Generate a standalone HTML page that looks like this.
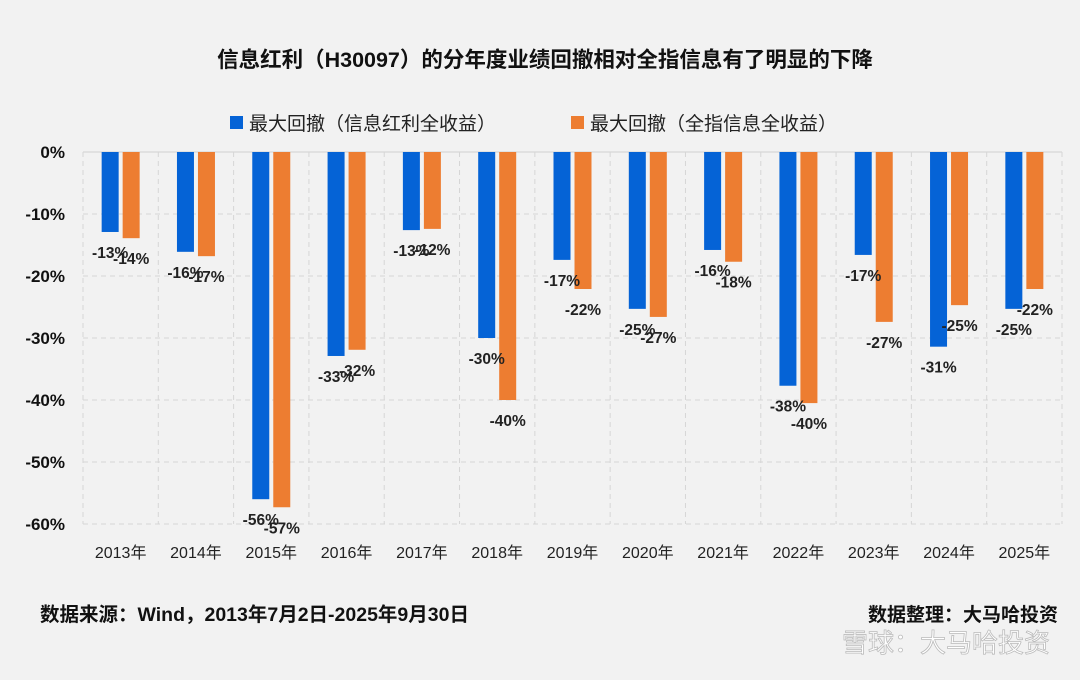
<!DOCTYPE html>
<html><head><meta charset="utf-8">
<style>
html,body{margin:0;padding:0;background:#f2f2f2;}
body{width:1080px;height:675px;overflow:hidden;font-family:"Liberation Sans","Noto Sans CJK SC",sans-serif;}
</style></head>
<body>
<svg id="chart" width="1080" height="675" xmlns="http://www.w3.org/2000/svg" style="font-family:'Liberation Sans','Noto Sans CJK SC',sans-serif">
<rect width="1080" height="675" fill="#f2f2f2"/>
<text x="545" y="67" text-anchor="middle" font-size="21.5" font-weight="bold" fill="#111">信息红利（H30097）的分年度业绩回撤相对全指信息有了明显的下降</text>
<g>
<rect x="230" y="116" width="13" height="13" fill="#0563d6"/>
<text x="249" y="130" font-size="19" fill="#222">最大回撤（信息红利全收益）</text>
<rect x="571" y="116" width="13" height="13" fill="#ed7d31"/>
<text x="590" y="130" font-size="19" fill="#222">最大回撤（全指信息全收益）</text>
</g>
<g id="grid"></g><g id="bars"></g><g id="labels"></g>
<text x="40" y="621" font-size="19.5" font-weight="bold" fill="#111">数据来源：Wind，2013年7月2日-2025年9月30日</text>
<text x="1058" y="621" text-anchor="end" font-size="19" font-weight="bold" fill="#111">数据整理：大马哈投资</text>
<text x="1050" y="652" text-anchor="end" font-size="26" fill="#fff" stroke="#bbb" stroke-width="0.8">雪球：大马哈投资</text>
</svg>
<script>
const categories=["2013年","2014年","2015年","2016年","2017年","2018年","2019年","2020年","2021年","2022年","2023年","2024年","2025年"];
const seriesBlue=[-12.9,-16.1,-56,-32.9,-12.6,-30,-17.4,-25.3,-15.8,-37.7,-16.6,-31.4,-25.3];
const seriesOrange=[-13.9,-16.8,-57.3,-31.9,-12.4,-40,-22.1,-26.6,-17.7,-40.5,-27.4,-24.7,-22.1];
const yTicks=[0,-10,-20,-30,-40,-50,-60];
const NS="http://www.w3.org/2000/svg";
const L=83,R=1062,T=152,B=524;
const cw=(R-L)/categories.length;
const y=v=>T+(0-v)/60*(B-T);
const xc=i=>L+cw*(i+0.5);
function mk(tag,attrs,parent,txt){const e=document.createElementNS(NS,tag);for(const k in attrs)e.setAttribute(k,attrs[k]);if(txt!==undefined)e.textContent=txt;parent.appendChild(e);return e;}
const grid=document.getElementById('grid'),bars=document.getElementById('bars'),labels=document.getElementById('labels');
yTicks.forEach(t=>{
  const ln=mk('line',{x1:L,x2:R,y1:y(t),y2:y(t),stroke:t===0?'#d0d0d0':'#d6d6d6','stroke-dasharray':t===0?'':'5,4','stroke-width':1},grid);
  
  
  const tx=mk('text',{x:65,y:y(t)+6,'text-anchor':'end','font-size':17,'font-weight':'bold',fill:'#111'},grid,t+'%');
  
  
});
for(let i=0;i<=categories.length;i++){
  const ln=mk('line',{x1:L+cw*i,x2:L+cw*i,y1:T,y2:B,stroke:'#d6d6d6','stroke-dasharray':'5,4'},grid);
  
  
}
const bw=17;
categories.forEach((c,i)=>{
  const xb=xc(i)-bw-2, xo=xc(i)+2;
  const b=mk('rect',{x:xb,y:T,width:bw,height:y(seriesBlue[i])-T,fill:'#0563d6'},bars);
  
  
  const o=mk('rect',{x:xo,y:T,width:bw,height:y(seriesOrange[i])-T,fill:'#ed7d31'},bars);
  
  
  const lb=mk('text',{x:xb+bw/2,y:y(seriesBlue[i])+26,'text-anchor':'middle','font-size':15.5,'font-weight':'bold',fill:'#222'},labels,Math.round(seriesBlue[i])+'%');
  
  
  const lo=mk('text',{x:xo+bw/2,y:y(seriesOrange[i])+26,'text-anchor':'middle','font-size':15.5,'font-weight':'bold',fill:'#222'},labels,Math.round(seriesOrange[i])+'%');
  
  
  const xl=mk('text',{x:xc(i),y:558,'text-anchor':'middle','font-size':16,fill:'#222'},labels,c);
  
  
});
</script>
</body></html>
